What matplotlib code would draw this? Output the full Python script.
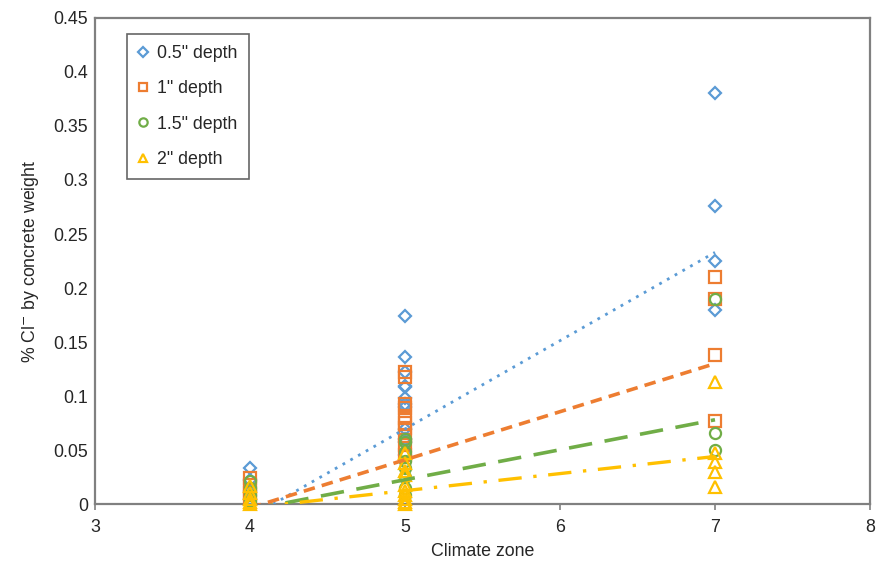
import matplotlib
matplotlib.use("Agg")
import matplotlib.pyplot as plt
from matplotlib.ticker import FixedLocator

plt.rcParams['font.family'] = ['Liberation Sans', 'DejaVu Sans']

# Chloride content (% by concrete weight) per climate zone and depth
zone4_05 = [0.033, 0.022, 0.012, 0.005]
zone5_05 = [0.174, 0.136, 0.122, 0.109, 0.108, 0.098, 0.093, 0.090, 0.069, 0.060, 0.057, 0.045]
zone7_05 = [0.381, 0.276, 0.225, 0.180]

zone4_10 = [0.024, 0.018, 0.010, 0.005]
zone5_10 = [0.122, 0.118, 0.093, 0.089, 0.080, 0.075, 0.070, 0.063, 0.055, 0.045]
zone7_10 = [0.210, 0.190, 0.138, 0.077]

zone4_15 = [0.021, 0.015, 0.008, 0.003]
zone5_15 = [0.060, 0.057, 0.048, 0.040, 0.033, 0.025, 0.015, 0.008]
zone7_15 = [0.190, 0.066, 0.050]

zone4_20 = [0.017, 0.010, 0.005, 0.002, 0.0]
zone5_20 = [0.047, 0.038, 0.031, 0.027, 0.018, 0.012, 0.008, 0.005, 0.002, 0.0]
zone7_20 = [0.113, 0.047, 0.039, 0.030, 0.016]

# Linear trend values at zone 4 and zone 7
trend_x = [4, 7]
trend_05 = [-0.0123, 0.233]
trend_10 = [-0.0036, 0.130]
trend_15 = [-0.0053, 0.078]
trend_20 = [-0.0035, 0.044]

labels = ['0.5" depth', '1" depth', '1.5" depth', '2" depth']
x_ticks = [3, 4, 5, 6, 7, 8]
y_ticks = [0, 0.05, 0.1, 0.15, 0.2, 0.25, 0.3, 0.35, 0.4, 0.45]
y_tick_labels = ['0', '0.05', '0.1', '0.15', '0.2', '0.25', '0.3', '0.35', '0.4', '0.45']

series = [
    (zone4_05, zone5_05, zone7_05, trend_05, '#5B9BD5', 'D', 6.5, (0, (1, 2.2)), 2.0),
    (zone4_10, zone5_10, zone7_10, trend_10, '#ED7D31', 's', 8, (0, (3.2, 2.0)), 2.6),
    (zone4_15, zone5_15, zone7_15, trend_15, '#70AD47', 'o', 8, (0, (6.5, 3.5)), 2.6),
    (zone4_20, zone5_20, zone7_20, trend_20, '#FFC000', '^', 8, (0, (7, 3.5, 1, 3.5)), 2.4),
]

FS = 12.8

fig = plt.figure(figsize=(8.81, 5.73), dpi=100)
ax = fig.add_axes([0.1078, 0.1204, 0.8797, 0.8482])

handles = []
for z4, z5, z7, trend, color, marker, ms, ls, lw in series:
    xs = [4] * len(z4) + [5] * len(z5) + [7] * len(z7)
    ys = list(z4) + list(z5) + list(z7)
    h, = ax.plot(xs, ys, linestyle='none', marker=marker, markersize=ms,
                 markerfacecolor='none', markeredgecolor=color,
                 markeredgewidth=1.6, clip_on=False, zorder=3)
    handles.append(h)

for z4, z5, z7, trend, color, marker, ms, ls, lw in series:
    ax.plot(trend_x, trend, color=color, linestyle=ls, linewidth=lw, zorder=4)

ax.set_xlim(3, 8)
ax.set_ylim(0, 0.45)
ax.xaxis.set_major_locator(FixedLocator(x_ticks))
ax.set_xticklabels([str(v) for v in x_ticks])
ax.yaxis.set_major_locator(FixedLocator(y_ticks))
ax.set_yticklabels(y_tick_labels)

for s in ax.spines.values():
    s.set_color('#808080')
    s.set_linewidth(1.6)

ax.tick_params(axis='x', direction='out', length=4, width=1.2, color='#808080',
               labelsize=FS, labelcolor='#262626', pad=7)
ax.tick_params(axis='y', length=0, labelsize=FS, labelcolor='#262626', pad=5)

ax.set_xlabel('Climate zone', fontsize=FS, color='#262626', labelpad=5)
ax.set_ylabel('% Cl$^{-}$ by concrete weight', fontsize=FS, color='#262626', labelpad=9)

leg = ax.legend(handles, labels, loc='upper left', bbox_to_anchor=(0.041, 0.967),
                fontsize=FS, frameon=True, fancybox=False, handlelength=0.6,
                handletextpad=0.5, labelspacing=1.03, borderpad=0.62,
                markerscale=0.75, borderaxespad=0)
leg.get_frame().set_edgecolor('#404040')
leg.get_frame().set_linewidth(1.2)
for t in leg.get_texts():
    t.set_color('#262626')

fig.savefig('out.png', dpi=100)
